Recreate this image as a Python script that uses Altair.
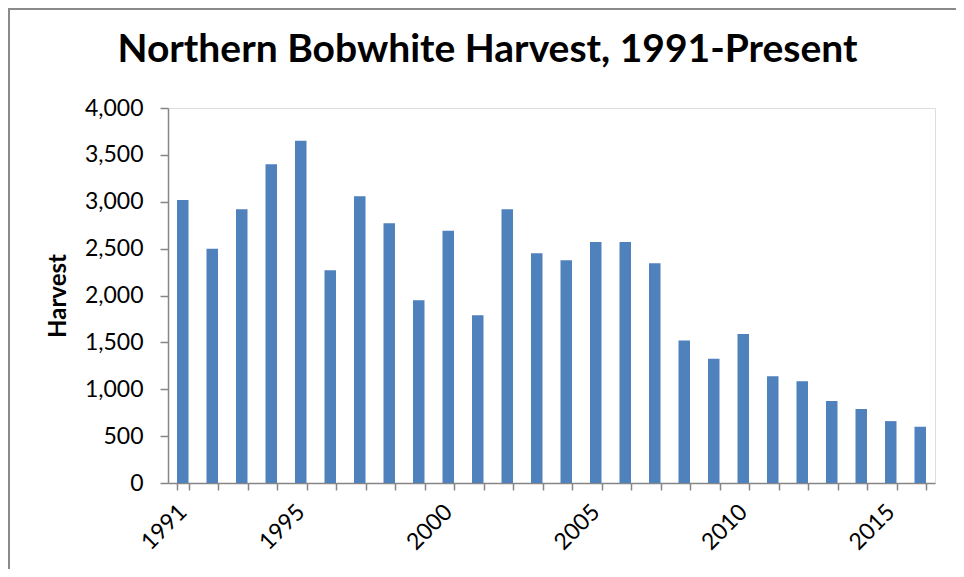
import altair as alt
import pandas as pd

years = [1991, 1992, 1993, 1994, 1995, 1996, 1997, 1998, 1999, 2000,
         2001, 2002, 2003, 2004, 2005, 2006, 2007, 2008, 2009, 2010,
         2011, 2012, 2013, 2014, 2015, 2016]
harvest = [3020, 2500, 2920, 3400, 3650, 2270, 3060, 2770, 1950, 2690,
           1790, 2920, 2450, 2375, 2570, 2570, 2345, 1520, 1325, 1590,
           1140, 1085, 875, 790, 660, 600]
x_labels = ["1991", "1995", "2000", "2005", "2010", "2015"]
y_ticks = [0, 500, 1000, 1500, 2000, 2500, 3000, 3500, 4000]

title_text = "Northern Bobwhite Harvest, 1991-Present"
y_title = "Harvest"

FONT = "Lato"
AXIS_COLOR = "#868686"
BAR_COLOR = "#4F81BD"

df = pd.DataFrame({"Year": years, "Harvest": harvest})
one = pd.DataFrame({"k": [0]})

label_expr = ("indexof([" + ",".join(f"'{l}'" for l in x_labels)
              + "], datum.label) >= 0 ? datum.label : ''")

bars = alt.Chart(df).mark_bar(color=BAR_COLOR).encode(
    x=alt.X(
        "Year:O",
        scale=alt.Scale(paddingInner=0.61, paddingOuter=0.305),
        axis=alt.Axis(
            title=None,
            labelAngle=315,
            labelAlign="right",
            labelBaseline="middle",
            labelExpr=label_expr,
            labelOverlap=False,
            tickBand="extent",
            tickOffset=-9,
            tickSize=7,
            labelPadding=18,
            labelFont=FONT,
            labelFontSize=23,
            labelColor="black",
            domainColor=AXIS_COLOR,
            tickColor=AXIS_COLOR,
            domainWidth=1.5,
            tickWidth=1.5,
        ),
    ),
    y=alt.Y(
        "Harvest:Q",
        scale=alt.Scale(domain=[0, 4000], nice=False),
        axis=alt.Axis(
            values=y_ticks,
            format=",d",
            grid=False,
            title=y_title,
            titleFont=FONT,
            titleFontSize=24,
            titleFontWeight="bold",
            titleColor="black",
            titlePadding=14,
            tickSize=8,
            labelPadding=17,
            labelFont=FONT,
            labelFontSize=23,
            labelColor="black",
            domainColor=AXIS_COLOR,
            tickColor=AXIS_COLOR,
            domainWidth=1.5,
            tickWidth=1.5,
        ),
    ),
)

frame_left = alt.Chart(one).mark_rule(color="#8A8A8A", strokeWidth=2).encode(
    x=alt.value(-159), y=alt.value(-100), y2=alt.value(480)
)
frame_top = alt.Chart(one).mark_rule(color="#8A8A8A", strokeWidth=2).encode(
    x=alt.value(-160), x2=alt.value(800), y=alt.value(-99)
)

chart = alt.layer(bars, frame_left, frame_top).properties(
    width=767,
    height=375,
    padding={"left": 160, "top": 100, "right": 21, "bottom": 86},
    autosize=alt.AutoSizeParams(type="none"),
    title=alt.TitleParams(
        text=title_text,
        font=FONT,
        fontSize=39,
        fontWeight="bold",
        color="black",
        anchor="middle",
        frame="group",
        dx=-64,
        dy=63,
        offset=0,
    ),
).configure_view(stroke=None).configure(background="white")

chart.save("out.html", embed_options={"renderer": "svg", "actions": False})
